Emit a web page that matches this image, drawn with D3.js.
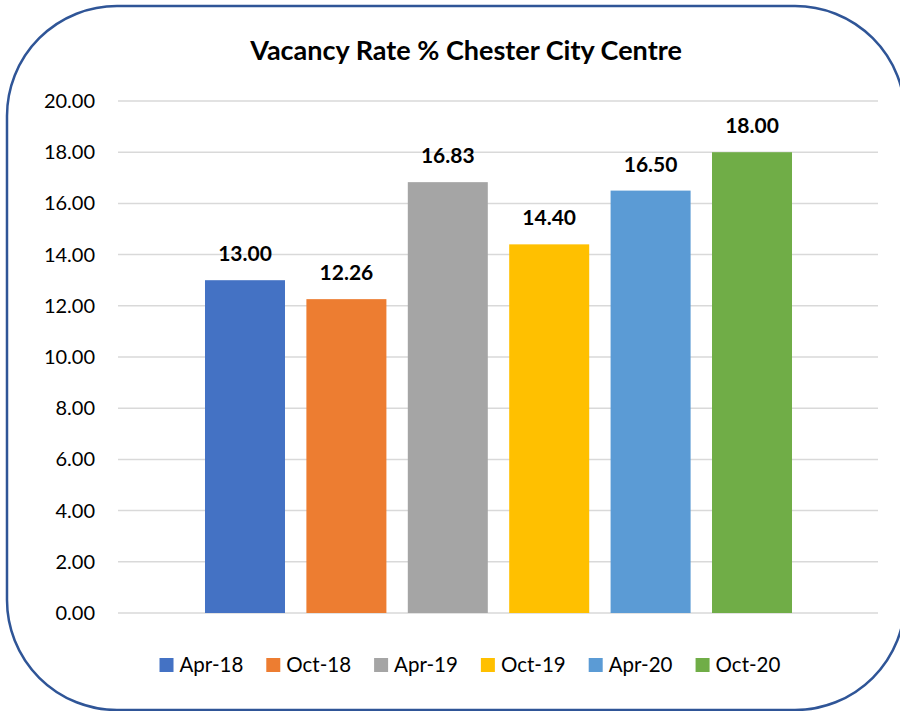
<!DOCTYPE html>
<html><head><meta charset="utf-8">
<script src="https://cdn.jsdelivr.net/npm/d3@7"></script>
<style>body{margin:0;background:#fff}svg{display:block}text{font-family:Lato,"Open Sans",sans-serif}</style>
</head><body>
<svg id="c" width="900" height="711"></svg>
<script>
const title = "Vacancy Rate % Chester City Centre";
const series = ["Apr-18","Oct-18","Apr-19","Oct-19","Apr-20","Oct-20"];
const values = [13.00, 12.26, 16.83, 14.40, 16.50, 18.00];
const colors = ["#4472C4","#ED7D31","#A5A5A5","#FFC000","#5B9BD5","#70AD47"];
const yTicks = [0,2,4,6,8,10,12,14,16,18,20];

const svg = d3.select("#c");
svg.append("rect").attr("x",7).attr("y",6).attr("width",898).attr("height",704)
  .attr("rx",110).attr("ry",110).attr("fill","#fff").attr("stroke","#2F5597").attr("stroke-width",2.5);

const y = d3.scaleLinear().domain([0,20]).range([613,101]);
const x = d3.scaleBand().domain(series).range([183.6,813.4]).paddingInner(0.211).paddingOuter(0.211);
const plotL = 118, plotR = 878;

const grid = svg.append("g");
grid.selectAll("line").data(yTicks).join("line")
  .attr("x1",plotL).attr("x2",plotR).attr("y1",d=>y(d)).attr("y2",d=>y(d))
  .attr("stroke","#D9D9D9").attr("stroke-width",1.5);

const yAxis = svg.append("g").attr("transform",`translate(${plotL},0)`)
  .call(d3.axisLeft(y).tickValues(yTicks).tickFormat(d3.format(".2f")).tickSize(0).tickPadding(23));
yAxis.select(".domain").remove();
yAxis.selectAll("text").attr("font-size",20).attr("fill","#000").attr("font-family","Lato");

svg.append("g").selectAll("rect").data(values).join("rect")
  .attr("x",(d,i)=>x(series[i])).attr("width",x.bandwidth())
  .attr("y",d=>y(d)).attr("height",d=>y(0)-y(d)).attr("fill",(d,i)=>colors[i]);

svg.append("g").selectAll("text").data(values).join("text")
  .attr("x",(d,i)=>x(series[i])+x.bandwidth()/2).attr("y",d=>y(d)-19)
  .attr("text-anchor","middle").attr("font-size",21).attr("font-weight","bold")
  .text(d=>d3.format(".2f")(d));

svg.append("text").attr("x",466).attr("y",60).attr("text-anchor","middle")
  .attr("font-size",27).attr("font-weight","bold").text(title);

// legend
const lg = svg.append("g");
const items = lg.selectAll("g").data(series).join("g");
items.append("rect").attr("width",14).attr("height",14).attr("y",-14).attr("fill",(d,i)=>colors[i]);
items.append("text").attr("x",20).attr("y",0).attr("font-size",20.5).text(d=>d);
let widths = [];
items.each(function(){ widths.push(this.getBBox().width); });
const gap = 23;
const total = d3.sum(widths) + gap*(widths.length-1);
let cx = 470 - total/2;
items.attr("transform",(d,i)=>{ const t=`translate(${cx},672)`; cx += widths[i]+gap; return t; });
</script>
</body></html>
